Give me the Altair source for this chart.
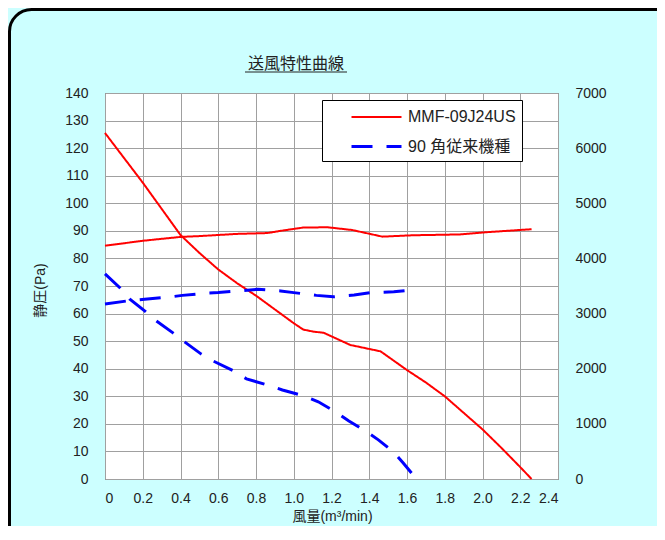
import altair as alt
import pandas as pd

# ---------------- data ----------------
chart_title = "送風特性曲線"
x_title = "風量(m³/min)"
y_title = "静圧(Pa)"
series_new = "MMF-09J24US"
series_old = "90 角従来機種"

x_ticks = [0, 0.2, 0.4, 0.6, 0.8, 1.0, 1.2, 1.4, 1.6, 1.8, 2.0, 2.2, 2.4]
y_ticks = [0, 10, 20, 30, 40, 50, 60, 70, 80, 90, 100, 110, 120, 130, 140]
rpm_ticks = [0, 1000, 2000, 3000, 4000, 5000, 6000, 7000]

# static pressure (Pa) vs air flow (m3/min)
new_p_x = [0, 0.1, 0.2, 0.3, 0.4, 0.5, 0.6, 0.7, 0.8, 0.9, 1.0, 1.05, 1.1, 1.16, 1.3, 1.46, 1.6, 1.7, 1.8, 1.9, 2.0, 2.1, 2.2, 2.26]
new_p_y = [125.5, 116.5, 107.5, 98, 88.5, 82, 76, 71, 66.5, 61.5, 56.5, 54.2, 53.5, 53, 48.6, 46.3, 39.5, 35, 30, 24, 18, 11.3, 4.3, 0]

old_p_x = [0, 0.08, 0.13, 0.21, 0.27, 0.36, 0.42, 0.51, 0.57, 0.69, 0.75, 0.86, 0.94, 1.05, 1.13, 1.22, 1.29, 1.38, 1.45, 1.53, 1.58, 1.65]
old_p_y = [74.4, 69.3, 65.3, 61, 57.4, 53, 49.8, 45.3, 42.9, 38.9, 36.3, 34.1, 32.3, 30.2, 28, 24.4, 21.1, 17.4, 14.1, 9.7, 5.8, 0]

# fan speed (rpm, right axis)
new_s_x = [0, 0.2, 0.4, 0.5, 0.7, 0.86, 0.93, 1.05, 1.18, 1.31, 1.47, 1.63, 1.88, 2.02, 2.26]
new_s_y = [4230, 4320, 4390, 4405, 4445, 4460, 4500, 4560, 4565, 4515, 4395, 4420, 4435, 4475, 4530]

old_s_x = [0, 0.13, 0.21, 0.33, 0.41, 0.52, 0.6, 0.72, 0.81, 0.93, 1.0, 1.12, 1.21, 1.32, 1.41, 1.53, 1.66]
old_s_y = [3175, 3235, 3260, 3295, 3330, 3365, 3380, 3415, 3440, 3410, 3380, 3330, 3305, 3335, 3380, 3395, 3440]

press_df = pd.concat([
    pd.DataFrame({"flow": new_p_x, "value": new_p_y, "series": series_new}),
    pd.DataFrame({"flow": old_p_x, "value": old_p_y, "series": series_old}),
])
speed_df = pd.concat([
    pd.DataFrame({"flow": new_s_x, "rpm": new_s_y, "series": series_new}),
    pd.DataFrame({"flow": old_s_x, "rpm": old_s_y, "series": series_old}),
])
deco_df = pd.DataFrame({"t": [chart_title]})

# ---------------- styling ----------------
FONT = "Liberation Sans, Noto Sans CJK JP"
TXT = "#222222"
GRID = "#A0A0A0"

series_domain = [series_new, series_old]
color_scale = alt.Scale(domain=series_domain, range=["#FF0000", "#0000FF"])
dash_scale = alt.Scale(domain=series_domain, range=[[1, 0], [21, 14]])
width_scale = alt.Scale(domain=series_domain, range=[2, 3])

legend = alt.Legend(
    title=None, orient="none", legendX=217, legendY=7,
    fillColor="white", strokeColor="black", padding=6,
    symbolType="M-2.5,0H2.5", symbolSize=400, symbolStrokeWidth=2.5,
    symbolOffset=37, labelOffset=20, rowPadding=10,
    labelFont=FONT, labelFontSize=16, labelColor=TXT,
    labelExpr="datum.label + '\u00a0\u00a0\u00a0\u00a0'",
    zindex=1,
)

x_axis = alt.Axis(
    values=x_ticks, title=x_title, grid=True, gridColor=GRID, gridWidth=1,
    domain=False, ticks=False, labelPadding=12, labelFontSize=14,
    labelFont=FONT, labelColor=TXT,
    labelExpr="datum.value == 0 ? '0' : format(datum.value, '.1f')",
    titleFont=FONT, titleFontSize=14, titleColor=TXT, titleFontWeight="normal",
    titleX=227, titleY=37, titleBaseline="middle", titleAlign="center",
)
x_enc = alt.X("flow:Q", scale=alt.Scale(domain=[0, 2.4], nice=False), axis=x_axis)

y_axis = alt.Axis(
    values=y_ticks, title=y_title, grid=True, gridColor=GRID, gridWidth=1,
    domain=False, ticks=False, labelPadding=17, labelFontSize=14,
    labelFont=FONT, labelColor=TXT, format="d",
    titleFont=FONT, titleFontSize=14, titleColor=TXT, titleFontWeight="normal",
    titleX=-65, titleY=197, titleAngle=270, titleBaseline="middle", titleAlign="center",
)
rpm_axis = alt.Axis(
    orient="right", values=rpm_ticks, title=None, grid=False,
    domain=False, ticks=False, labelPadding=17, labelFontSize=14,
    labelFont=FONT, labelColor=TXT, format="d",
)

press = alt.Chart(press_df).mark_line(strokeCap="butt").encode(
    x=x_enc,
    y=alt.Y("value:Q", scale=alt.Scale(domain=[0, 140], nice=False), axis=y_axis),
    color=alt.Color("series:N", scale=color_scale, legend=legend),
    strokeDash=alt.StrokeDash("series:N", scale=dash_scale, legend=legend),
    strokeWidth=alt.StrokeWidth("series:N", scale=width_scale, legend=None),
)

speed = alt.Chart(speed_df).mark_line(strokeCap="butt").encode(
    x=x_enc,
    y=alt.Y("rpm:Q", scale=alt.Scale(domain=[0, 7000], nice=False), axis=rpm_axis),
    color=alt.Color("series:N", scale=color_scale, legend=legend),
    strokeDash=alt.StrokeDash("series:N", scale=dash_scale, legend=legend),
    strokeWidth=alt.StrokeWidth("series:N", scale=width_scale, legend=None),
)

title_text = alt.Chart(deco_df).mark_text(
    font=FONT, fontSize=16, color=TXT, align="center", baseline="middle"
).encode(x=alt.value(191), y=alt.value(-29), text="t:N")

underline = alt.Chart(deco_df).mark_rule(color=TXT, strokeWidth=1).encode(
    x=alt.value(140), x2=alt.value(242), y=alt.value(-21)
)

border = alt.Chart(deco_df).mark_rect(
    filled=False, stroke="black", strokeWidth=3, cornerRadius=22
).encode(x=alt.value(-95.5), x2=alt.value(700), y=alt.value(-83.5), y2=alt.value(520))

chart = alt.layer(press, speed, title_text, underline, border).resolve_scale(
    y="independent"
).properties(
    width=453, height=386,
    padding={"left": 97, "top": 85, "right": 99, "bottom": 47},
    autosize=alt.AutoSizeParams(type="none"),
    background="#CCFFFF",
).configure_view(fill="white", stroke="#555555", strokeWidth=1)

chart.save("out.html", embed_options={"renderer": "svg", "actions": False})
